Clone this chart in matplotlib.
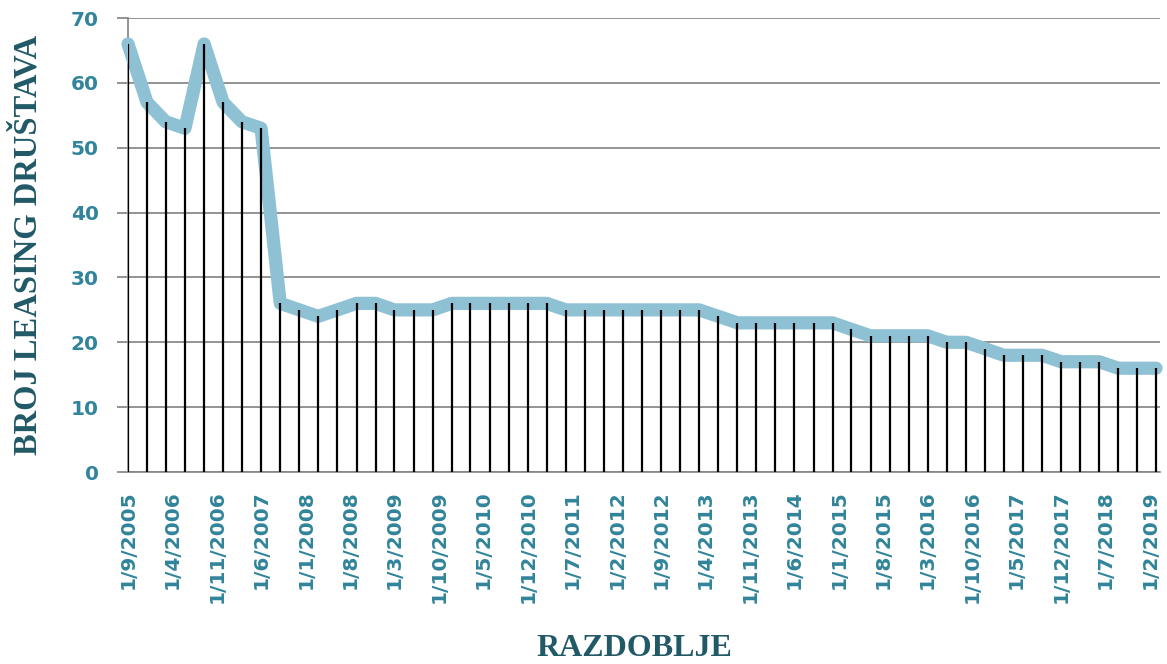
import matplotlib
matplotlib.use("Agg")
import matplotlib.pyplot as plt
import pandas as pd
from datetime import datetime, timedelta

# ---- data ----
start_date = "2005-09-01"
n_points = 55  # quarterly observations
values = [66, 57, 54, 53, 66, 57, 54, 53, 26, 25,
          24, 25, 26, 26, 25, 25, 25, 26, 26, 26,
          26, 26, 26, 25, 25, 25, 25, 25, 25, 25,
          25, 24, 23, 23, 23, 23, 23, 23, 22, 21,
          21, 21, 21, 20, 20, 19, 18, 18, 18, 17,
          17, 17, 16, 16, 16]
tick_labels = ["1/9/2005", "1/4/2006", "1/11/2006", "1/6/2007", "1/1/2008",
               "1/8/2008", "1/3/2009", "1/10/2009", "1/5/2010", "1/12/2010",
               "1/7/2011", "1/2/2012", "1/9/2012", "1/4/2013", "1/11/2013",
               "1/6/2014", "1/1/2015", "1/8/2015", "1/3/2016", "1/10/2016",
               "1/5/2017", "1/12/2017", "1/7/2018", "1/2/2019"]
y_ticks = [0, 10, 20, 30, 40, 50, 60, 70]
x_title = "RAZDOBLJE"
y_title = "BROJ LEASING DRUŠTAVA"

dates = pd.date_range(start_date, periods=n_points, freq="3MS")
tick_dates = [datetime.strptime(t, "%d/%m/%Y") for t in tick_labels]

# ---- style ----
tick_color = "#31849B"
title_color = "#215967"
line_color = "#8EC1D4"
grid_color = "#878787"

fig = plt.figure(figsize=(11.67, 6.64), dpi=100)
ax = fig.add_axes([128 / 1167, 1 - 472 / 664, (1160 - 128) / 1167, (472 - 18) / 664])

ax.plot(dates, values, color=line_color, lw=9.5, solid_joinstyle="round",
        solid_capstyle="round", zorder=3, clip_on=False)
ax.vlines(dates, 0, values, color="black", lw=1.6, zorder=4)

ax.set_ylim(0, 70)
ax.set_xlim(dates[0], dates[-1] + timedelta(days=19))
ax.set_yticks(y_ticks)
ax.set_xticks(tick_dates)
ax.set_xticklabels(tick_labels, rotation=90)

ax.grid(axis="y", color=grid_color, lw=1.25, zorder=1)
ax.set_axisbelow(True)
for s in ["top", "right"]:
    ax.spines[s].set_visible(False)
for s in ["left", "bottom"]:
    ax.spines[s].set_color(grid_color)
    ax.spines[s].set_linewidth(1.25)
    ax.spines[s].set_zorder(2)

ax.tick_params(axis="y", length=8, width=1.25, color=grid_color, pad=13,
               labelcolor=tick_color, labelsize=14.5)
ax.tick_params(axis="x", length=0, pad=13, labelcolor=tick_color, labelsize=14.5)
for lab in ax.get_xticklabels() + ax.get_yticklabels():
    lab.set_fontweight("bold")
    lab.set_family("DejaVu Sans")

fig.text(28 / 1167, 1 - 245 / 664, y_title, rotation=90, ha="center", va="center",
         family="Liberation Serif", weight="bold", size=23.5, color=title_color)
fig.text(634 / 1167, 1 - 649 / 664, x_title, ha="center", va="center",
         family="Liberation Serif", weight="bold", size=23, color=title_color)

fig.savefig("out.png", dpi=100)
